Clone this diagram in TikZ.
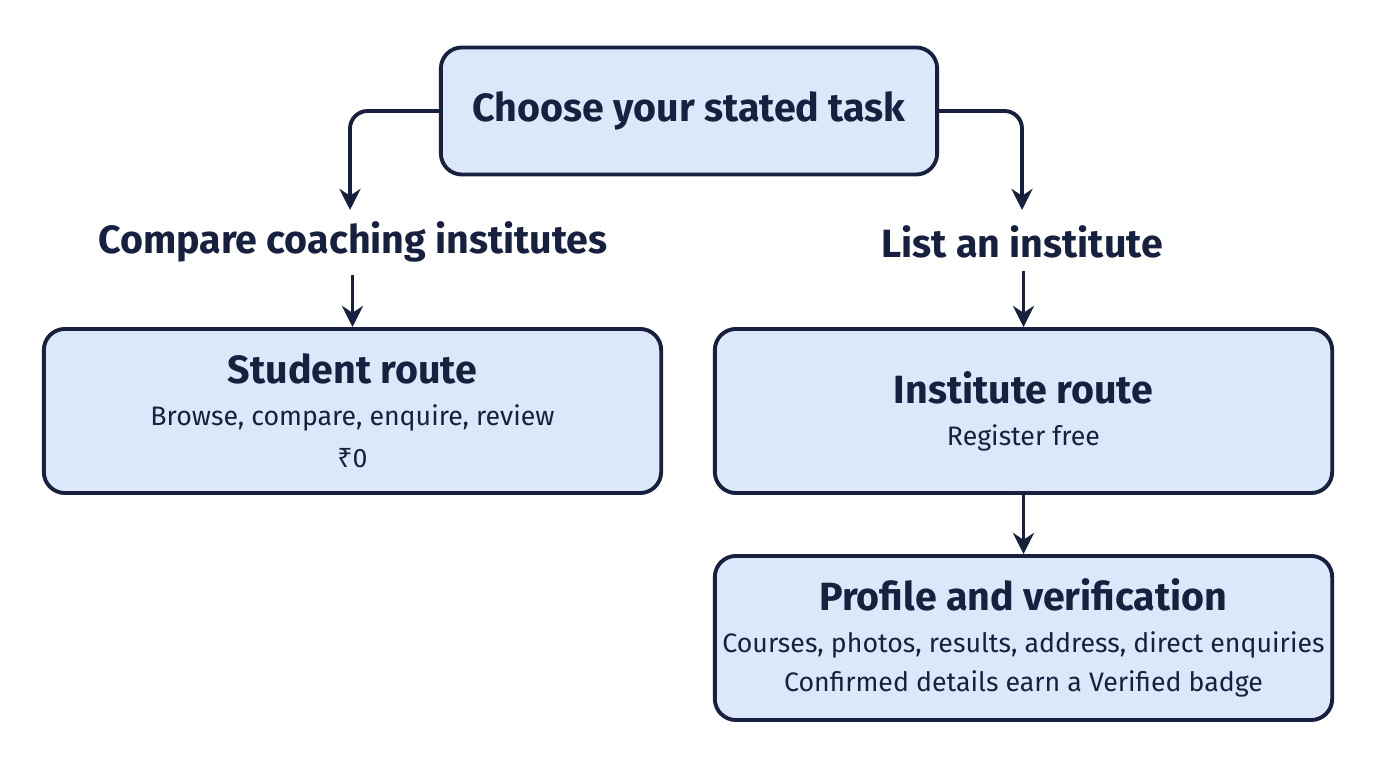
\documentclass[tikz,border=0pt]{standalone}
\usepackage{fontspec}
\setmainfont{Fira Sans}
\newfontfamily\RupeeFont{Noto Sans}
\usetikzlibrary{arrows.meta}
\definecolor{boxfill}{HTML}{DCE8FA}
\definecolor{navy}{HTML}{17213F}
\newcommand\HeadText{\fontsize{11.2}{12.5}\selectfont\bfseries}
\newcommand\SubText{\fontsize{7.6}{9.6}\selectfont}
\tikzset{
    box/.style={draw=navy,fill=boxfill,line width=1.1pt,rounded corners=6pt,inner sep=1pt,
        minimum width=6.17cm,minimum height=1.64cm,text=navy,align=center},
    head/.style={font=\HeadText,text=navy},
    link/.style={draw=navy,line width=1.1pt,-{Stealth[length=6pt,width=6pt]},rounded corners=5pt},
}
\begin{document}
\begin{tikzpicture}[x=0.01cm,y=-0.01cm]
    \useasboundingbox (0,0) rectangle (1376,768);
    \node[box,minimum width=4.96cm,minimum height=1.27cm,head] (task) at (689,111) {Choose your stated task};
    \node[head] (compare) at (353,242) {Compare coaching institutes};
    \node[head] (list) at (1022,242) {List an institute};
    \node[box] (student) at (352.5,411) {{\HeadText Student route}\\[0pt]
        {\SubText Browse, compare, enquire, review}\\[0pt]{\SubText{\RupeeFont ₹}0}};
    \node[box] (inst) at (1023.5,411) {{\HeadText Institute route}\\[0pt]
        {\SubText Register free}};
    \node[box] (profile) at (1023.5,638) {{\HeadText Profile and verification}\\[0pt]
        {\SubText Courses, photos, results, address, direct enquiries}\\[-1pt]
        {\SubText Confirmed details earn a Verified badge}};
    % connectors
    \coordinate (lt) at (350,210);
    \coordinate (rt) at (1022,210);
    \draw[link] (task.west) -| (lt);
    \draw[link] (task.east) -| (rt);
    \draw[link] (compare.south -| student.north) -- (student.north);
    \draw[link] (list.south -| inst.north) -- (inst.north);
    \draw[link] (inst) -- (profile);
\end{tikzpicture}
\end{document}
